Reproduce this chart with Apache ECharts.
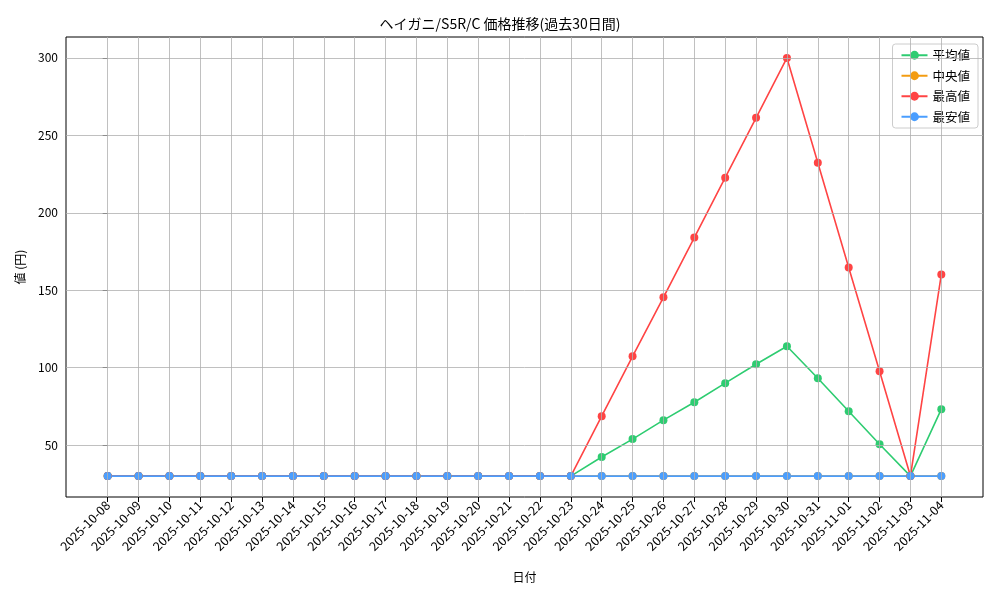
<!DOCTYPE html>
<html><head><meta charset="utf-8">
<script src="https://cdn.jsdelivr.net/npm/echarts@6/dist/echarts.min.js"></script>
<style>html,body{margin:0;padding:0;background:#fff}#c{width:1000px;height:600px}</style>
</head><body><div id="c"></div>
<script>
const dates = ['2025-10-08','2025-10-09','2025-10-10','2025-10-11','2025-10-12','2025-10-13','2025-10-14','2025-10-15','2025-10-16','2025-10-17','2025-10-18','2025-10-19','2025-10-20','2025-10-21','2025-10-22','2025-10-23','2025-10-24','2025-10-25','2025-10-26','2025-10-27','2025-10-28','2025-10-29','2025-10-30','2025-10-31','2025-11-01','2025-11-02','2025-11-03','2025-11-04'];
const avgVals = [30,30,30,30,30,30,30,30,30,30,30,30,30,30,30,30,42.3,53.9,66.1,77.7,90,102.2,113.8,93.2,71.9,50.6,30,73.2];
const medVals = [30,30,30,30,30,30,30,30,30,30,30,30,30,30,30,30,30,30,30,30,30,30,30,30,30,30,30,30];
const maxVals = [30,30,30,30,30,30,30,30,30,30,30,30,30,30,30,30,68.7,107.3,145.4,184,222.7,261.3,300,232.3,164.7,97.7,30,160.2];
const minVals = [30,30,30,30,30,30,30,30,30,30,30,30,30,30,30,30,30,30,30,30,30,30,30,30,30,30,30,30];
const yTicks = [50,100,150,200,250,300];
const idx = dates.map((d,i)=>i);
const F = '"Noto Sans CJK JP", "DejaVu Sans", sans-serif';
const gridColor = '#b0b0b0';
function ser(name, vals, color, extra){
  return Object.assign({name, type:'line', data: vals.map((v,i)=>[i,v]),
    symbol:'circle', symbolSize:8, lineStyle:{width:1.6,color}, itemStyle:{color}, z:3}, extra||{});
}
const chart = echarts.init(document.getElementById('c'));
chart.setOption({
  animation:false,
  textStyle:{fontFamily:F},
  title:{text:'ヘイガニ/S5R/C 価格推移(過去30日間)', left:'center', top:12, textStyle:{fontFamily:F,fontSize:14,fontWeight:'normal',color:'#000'}},
  grid:{left:66, right:17, top:37, bottom:103, show:true, borderColor:'#000', borderWidth:1},
  legend:{orient:'vertical', right:22, top:44, itemGap:8, itemWidth:26, itemHeight:11, padding:[5,8],
    borderColor:'#ccc', borderWidth:1, borderRadius:3, backgroundColor:'#fff',
    textStyle:{fontFamily:F,fontSize:12.5,color:'#000'},
    data:['平均値','中央値','最高値','最安値']},
  xAxis:{type:'value', min:-1.35, max:28.35, name:'日付', nameLocation:'middle', nameGap:74,
    nameTextStyle:{fontFamily:F,fontSize:12,color:'#000'},
    axisLine:{show:false}, splitLine:{show:false},
    axisTick:{customValues:idx, lineStyle:{color:'#000'}},
    axisLabel:{customValues:idx, rotate:45, fontSize:12.5, margin:6, color:'#000', formatter:v=>dates[Math.round(v)]}},
  yAxis:{type:'value', min:16.5, max:313.5, name:'値 (円)', nameLocation:'middle', nameGap:40, nameRotate:90,
    nameTextStyle:{fontFamily:F,fontSize:12,color:'#000'},
    axisLine:{show:false}, splitLine:{show:false},
    axisTick:{show:true, customValues:yTicks, lineStyle:{color:'#000'}},
    axisLabel:{customValues:yTicks, fontSize:12, color:'#000'}},
  series:[
    ser('平均値', avgVals, '#2ecc71', {markLine:{silent:true, symbol:'none', label:{show:false}, animation:false,
      lineStyle:{color:gridColor, type:'solid', width:0.8},
      data: yTicks.map(v=>({yAxis:v})).concat(idx.map(i=>({xAxis:i})))}}),
    ser('中央値', medVals, '#f39c12'),
    ser('最高値', maxVals, '#ff4444'),
    ser('最安値', minVals, '#4a9eff')
  ]
});
</script></body></html>
